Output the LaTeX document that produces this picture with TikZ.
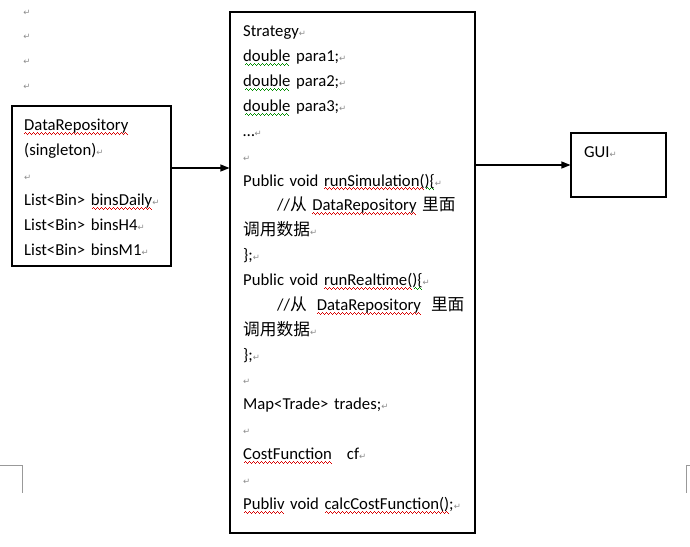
\documentclass[tikz,border=0pt]{standalone}
\usepackage{fontspec}
\setmainfont{Carlito}
\newfontfamily\cjk{Noto Sans CJK SC}
\newfontfamily\markfont{DejaVu Sans}
\usetikzlibrary{arrows.meta}

% spell-check squiggles under a word
\newcommand\wavepiece{\vrule height-2.4pt depth3.4pt width1pt\vrule height-1.4pt depth2.4pt width1pt\vrule height-2.4pt depth3.4pt width1pt\vrule height-3.4pt depth4.4pt width1pt}
\newcommand\wavy[2]{\leavevmode\setbox0\hbox{#2}\rlap{\color{#1}\hbox to\wd0{\cleaders\hbox{\wavepiece}\hfill}}\box0\relax}
\newcommand\redwave[1]{\wavy{red!85!black}{#1}}
\newcommand\greenwave[1]{\wavy{green!55!black}{#1}}
\newcommand\eol{{\color{black!45}\markfont\fontsize{8.5}{8}\selectfont ↵}}
\newcommand\codefont{\fontsize{16.7}{24.86}\selectfont\spaceskip=3.2pt\relax}

\begin{document}
\begin{tikzpicture}[x=1pt, y=-1pt,
        frame/.style={draw, line width=1.1pt, inner sep=0pt},
        code/.style={anchor=north west, inner sep=0pt, align=left, text width=#1, font=\codefont},
        link/.style={-{Triangle[length=9pt,width=7pt]}, line width=1.1pt}
    ]
    \useasboundingbox (0,0) rectangle (690,546);

    % empty paragraphs above the repository box
    \foreach \y [count=\i] in {13,37,62,87}
        \node[inner sep=0pt] (par\i) at (27,\y) {\eol};

    % boxes
    \node[frame, minimum width=159pt, minimum height=160pt] (repo) at (91.5,186) {};
    \node[frame, minimum width=245pt, minimum height=521pt] (strat) at (352.5,272.5) {};
    \node[frame, minimum width=95pt, minimum height=64pt] (gui) at (618.5,165) {};

    % texts
    \node[code=140pt] (repotext) at (24,113.3) {\strut\redwave{DataRepository}\\
        (singleton)\eol\\
        \eol\\
        List<Bin> \redwave{binsDaily}\eol\\
        List<Bin> binsH4\eol\\
        List<Bin> binsM1\eol};
    \node[code=228pt] (strattext) at (243,19.3) {\strut Strategy\eol\\
        \greenwave{double} para1;\eol\\
        \greenwave{double} para2;\eol\\
        \greenwave{double} para3;\eol\\
        …\eol\\
        \eol\\
        Public void \redwave{runSimulation(}\greenwave{)\{}\eol\\
        \hspace*{34pt}//{\cjk 从} \redwave{DataRepository} {\cjk 里面}\\
        {\cjk 调用数据}\eol\\
        \};\eol\\
        Public void \redwave{runRealtime(}\greenwave{)\{}\eol\\
        \hspace*{34pt}//{\cjk 从}\hspace{10pt}\redwave{DataRepository}\hspace{10pt}{\cjk 里面}\\
        {\cjk 调用数据}\eol\\
        \};\eol\\
        \eol\\
        Map<Trade> trades;\eol\\
        \eol\\
        \redwave{CostFunction}\hspace{15pt}cf\eol\\
        \eol\\
        \redwave{Publiv} void \redwave{calcCostFunction()};\eol};
    \node[code=70pt] (guitext) at (584,139.9) {\strut GUI\eol};

    % connectors
    \coordinate (out) at ([yshift=18pt]repo.east);
    \draw[link] (out) -- (out -| strat.west);
    \draw[link] (strat.east |- gui.west) -- (gui.west);

    % page corner marks
    \draw[black!40, line width=0.8pt] (0,465) -- (22,465) -- (22,493);
    \draw[black!40, line width=0.8pt] (690,465) -- (686,465) -- (686,493);
\end{tikzpicture}
\end{document}
